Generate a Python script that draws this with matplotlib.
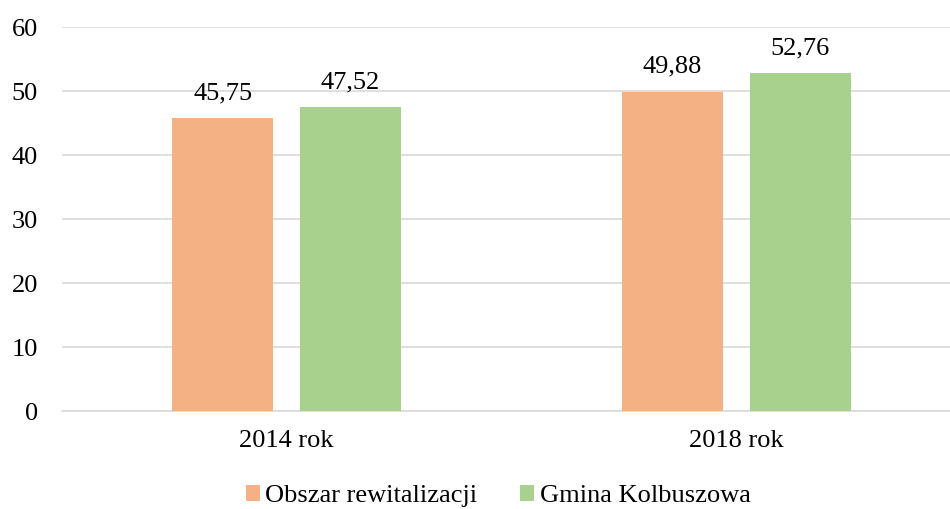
import numpy as np
import matplotlib.pyplot as plt
from matplotlib.patches import Patch

categories = ['2014 rok', '2018 rok']
series_names = ['Obszar rewitalizacji', 'Gmina Kolbuszowa']
obszar = [45.75, 49.88]
gmina = [47.52, 52.76]
colors = ['#F4B183', '#A9D18E']

plt.rcParams['font.family'] = ['Liberation Serif', 'DejaVu Serif']
plt.rcParams['font.size'] = 19

fig = plt.figure(figsize=(9.5, 5.09), dpi=100)
ax = fig.add_axes([61.5 / 950, 98 / 509, 900 / 950, 384 / 509])

x = np.arange(len(categories))
width = 0.2244
offset = 0.142

for vals, off, col in [(obszar, -offset, colors[0]), (gmina, offset, colors[1])]:
    bars = ax.bar(x + off, vals, width, color=col, zorder=3)
    for b, v in zip(bars, vals):
        ax.annotate(f'{v:.2f}'.replace('.', ','),
                    (b.get_x() + b.get_width() / 2, v),
                    xytext=(0, 10), textcoords='offset points',
                    ha='center', va='bottom', fontsize=19)

ax.set_xlim(-0.5, 1.5)
ax.set_ylim(0, 60)
ax.set_yticks(range(0, 61, 10))
ax.set_xticks(x)
ax.set_xticklabels(categories)
ax.yaxis.grid(True, color='#D9D9D9', linewidth=1.2, zorder=0)
ax.tick_params(axis='both', length=0)
ax.tick_params(axis='x', pad=14)
ax.tick_params(axis='y', pad=17)
for side in ['top', 'right', 'left']:
    ax.spines[side].set_visible(False)
ax.spines['bottom'].set_color('#D9D9D9')
ax.spines['bottom'].set_linewidth(1.2)

handles = [Patch(facecolor=c, label=n) for c, n in zip(colors, series_names)]
fig.legend(handles=handles, loc='center', bbox_to_anchor=(498 / 950, 1 - 496 / 509),
           ncol=2, frameon=False, handlelength=0.55, handleheight=0.55,
           handletextpad=0.2, columnspacing=1.6, fontsize=19)

fig.savefig('out.png', dpi=100)
